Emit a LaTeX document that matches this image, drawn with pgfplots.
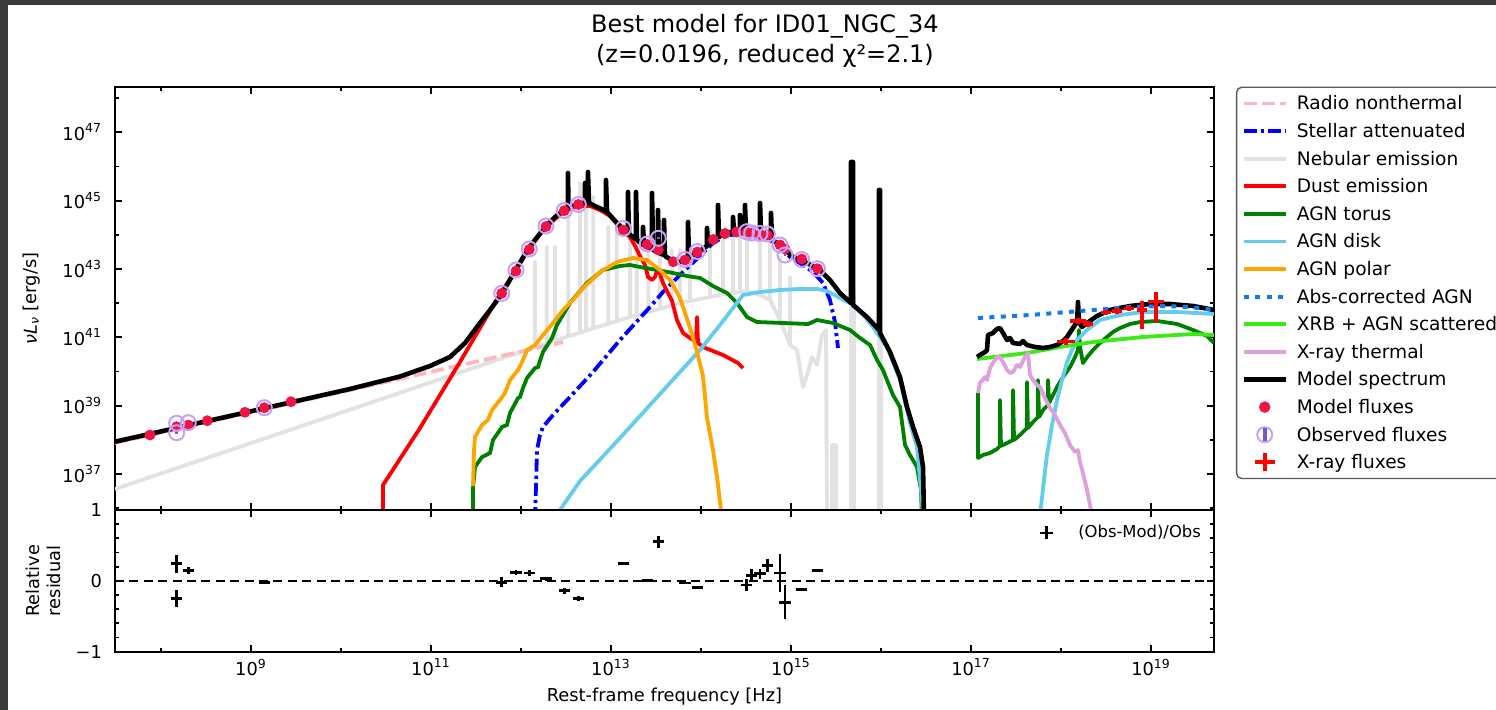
\documentclass[border=0pt]{standalone}
\usepackage{fontspec}
\setmainfont{DejaVu Sans}
\usepackage{pgfplots}
\pgfplotsset{compat=1.18}
\definecolor{framec}{RGB}{58,58,60}
\definecolor{pinkc}{RGB}{255,182,193}
\definecolor{stellar}{RGB}{0,0,255}
\definecolor{nebgray}{RGB}{226,226,226}
\definecolor{dust}{RGB}{255,0,0}
\definecolor{torus}{RGB}{0,128,0}
\definecolor{disk}{RGB}{102,204,238}
\definecolor{polar}{RGB}{255,165,0}
\definecolor{abscorr}{RGB}{20,120,240}
\definecolor{xrb}{RGB}{60,235,20}
\definecolor{thermal}{RGB}{221,160,221}
\definecolor{modflux}{RGB}{240,20,70}
\definecolor{obscirc}{RGB}{200,160,245}
\definecolor{obsbar}{RGB}{106,90,205}
\definecolor{leggray}{RGB}{90,90,90}
\newcommand{\fs}{\fontsize{8.9}{10.4}\selectfont}
\newcommand{\lfs}{\fontsize{9.3}{10.4}\selectfont}
\begin{document}
\begin{tikzpicture}
\useasboundingbox (0pt,0pt) rectangle (748pt,-355pt);
\fill[framec] (0pt,0pt) rectangle (748pt,-355pt);
\fill[white] (4pt,-2.5pt) rectangle (748pt,-355pt);
\begin{axis}[
  at={(57.5pt,-255pt)}, anchor=south west,
  scale only axis, width=549.5pt, height=211.35pt,
  xmin=7.489, xmax=19.70, ymin=35.947, ymax=48.317,
  axis line style={line width=1pt},
  xtick={9,11,13,15,17,19}, minor xtick={8,10,12,14,16,18}, xticklabels={},
  ytick={37,39,41,43,45,47}, minor ytick={36,38,40,42,44,46,48},
  yticklabels={10\textsuperscript{37},10\textsuperscript{39},10\textsuperscript{41},10\textsuperscript{43},10\textsuperscript{45},10\textsuperscript{47}},
  tick align=inside, xtick pos=both, ytick pos=both, yticklabel pos=left,
  major tick length=3.5pt, minor tick length=2pt,
  tick style={black, line width=0.9pt},
  tick label style={font=\fs},
  yticklabel style={xshift=-3pt},
  ylabel={\textit{νL}\textsubscript{\textit{ν}} [erg/s]},
  ylabel style={font=\fs, at={(axis description cs:-0.0755,0.5)}, anchor=center},
  every axis title shift=0pt,
  title={Best model for ID01\_NGC\_34\\(z=0.0196, reduced χ²=2.1)},
  title style={font=\fontsize{12}{14.75}\selectfont, align=center, at={(axis description cs:0.5914,1.1095)}, anchor=center},
  legend style={at={(1.0206,1)}, anchor=north west, draw=leggray, line width=0.7pt,
    rounded corners=2.5pt, fill=white, font=\lfs, inner xsep=2.5pt, inner ysep=1.2pt, outer sep=0pt,
    row sep=0pt, column sep=4.5pt, nodes={inner sep=0pt, text height=10.1pt, text depth=3.7pt}},
  legend cell align=left,
  legend image code/.code={\draw[#1] (0pt,0pt) -- (20.8pt,0pt);},
]
% Nebular emission
\addplot[nebgray, line width=1.9pt, line join=round, forget plot] coordinates {
(7.489,36.561) (11.767,40.366)
(12.156,40.708) (12.156,43.213) (12.156,40.708)
(12.286,40.822) (12.286,43.652) (12.286,40.822)
(12.378,40.901) (12.378,43.652) (12.378,40.901)
(12.526,41.030) (12.526,44.726) (12.526,41.030)
(12.656,41.138) (12.656,45.508) (12.656,41.138)
(12.722,41.194) (12.722,44.969) (12.722,41.194)
(12.803,41.261) (12.803,45.115) (12.803,41.261)
(12.970,41.402) (12.970,44.237) (12.970,41.402)
(13.063,41.478) (13.063,44.337) (13.063,41.478)
(13.211,41.589) (13.211,44.237) (13.211,41.589)
(13.286,41.645) (13.286,43.945) (13.286,41.645)
(13.414,41.741) (13.414,43.556) (13.414,41.741)
(13.544,41.838) (13.544,43.848) (13.544,41.838)
(13.674,41.934) (13.674,43.556) (13.674,41.934)
(13.767,42.005) (13.767,43.556) (13.767,42.005)
(13.878,42.063) (13.878,43.556) (13.878,42.063)
(14.100,42.180) (14.100,44.141) (14.100,42.180)
(14.244,42.256) (14.244,43.848) (14.244,42.256)
(14.356,42.297) (14.356,44.521) (14.356,42.297)
(14.433,42.326) (14.433,44.434) (14.433,42.326)
(14.511,42.356) (14.511,44.229) (14.511,42.356)
(14.656,42.239) (14.656,44.053) (14.656,42.239)
(14.767,42.092) (14.767,44.141) (14.767,42.092)
(14.878,41.507) (14.878,43.351) (14.878,41.507)
(14.989,40.775) (14.989,42.765) (14.989,40.775)
(15.067,40.629) (15.133,39.546) (15.178,39.897) (15.233,40.424) (15.289,40.190) (15.344,41.068) (15.389,41.214)
(15.400,35.800) (15.456,35.800) (15.456,37.849) (15.500,37.849) (15.500,35.800)
(15.667,35.800) (15.667,42.385) (15.700,42.385) (15.700,35.800)
(15.978,35.800) (15.978,41.068) (16.000,41.068) (16.000,35.800)
};
% Radio nonthermal
\addplot[pinkc, line width=1.9pt, dash pattern=on 6.5pt off 2.5pt, forget plot] coordinates {(7.489,37.91) (12.467,40.86)};
% Stellar attenuated
\addplot[stellar, line width=1.9pt, dash pattern=on 6.5pt off 2pt on 1.6pt off 2pt, forget plot] coordinates {
(12.156,35.654) (12.178,37.703) (12.211,38.142) (12.244,38.376) (12.356,38.727) (12.544,39.254) (12.800,39.985) (13.100,40.922) (13.433,41.887) (13.578,42.326) (13.800,42.912) (13.989,43.380) (14.133,43.760) (14.267,43.965) (14.400,44.024) (14.544,43.995) (14.656,43.965) (14.767,43.848) (14.878,43.643) (14.989,43.351) (15.133,43.117) (15.244,42.912) (15.356,42.590) (15.433,42.092) (15.489,41.448) (15.522,40.688)};
% Dust emission
\addplot[dust, line width=1.9pt, line join=round, forget plot] coordinates {
(10.467,35.800) (10.467,36.678) (10.878,38.346) (11.322,40.278) (11.767,42.268) (11.933,42.912) (12.078,43.556) (12.267,44.199) (12.467,44.668) (12.633,44.843) (12.767,44.843) (12.878,44.726) (12.989,44.551) (13.067,44.316) (13.133,44.112) (13.211,43.936) (13.267,43.673) (13.322,43.380) (13.378,43.117) (13.411,42.765) (13.456,42.678) (13.489,42.765) (13.511,42.970) (13.544,42.853) (13.578,42.590) (13.622,42.356) (13.678,42.063) (13.733,41.507) (13.800,41.127) (13.878,40.980) (13.944,40.863) (13.956,41.595) (13.967,40.834) (14.022,40.717) (14.244,40.483) (14.411,40.249) (14.467,40.102)};
% AGN torus
\addplot[torus, line width=1.9pt, forget plot] coordinates {
(11.467,35.654) (11.467,36.591) (11.489,37.205) (11.567,37.498) (11.656,37.615) (11.689,37.995) (11.789,38.376) (11.844,38.434) (11.878,38.785) (11.967,39.224) (11.989,39.254) (12.022,39.517) (12.067,39.810) (12.156,40.102) (12.189,40.131) (12.244,40.571) (12.344,40.980) (12.400,41.361) (12.544,42.005) (12.733,42.590) (12.911,42.970) (13.100,43.087) (13.211,43.117) (13.322,43.058) (13.511,42.970) (13.689,42.882) (13.844,42.795) (13.989,42.736) (14.133,42.502) (14.289,42.297) (14.400,42.005) (14.511,41.595) (14.622,41.448) (14.911,41.419) (15.189,41.390) (15.289,41.507) (15.467,41.419) (15.656,41.214) (15.767,40.980) (15.878,40.775) (15.956,40.336) (16.022,40.044) (16.133,39.312) (16.211,38.961) (16.267,37.849) (16.322,37.556) (16.400,37.205) (16.444,36.532) (16.456,35.654)};
\addplot[torus, line width=1.9pt, line join=round, forget plot] coordinates {
(17.078,39.371) (17.078,37.468) (17.133,37.556) (17.211,37.615) (17.289,37.732) (17.322,37.820) (17.322,39.166) (17.333,37.820) (17.400,37.907) (17.467,37.995) (17.467,39.458) (17.478,37.995) (17.544,38.142) (17.622,38.346) (17.622,39.693) (17.633,38.346) (17.689,38.522) (17.744,38.668) (17.744,39.751) (17.756,38.668) (17.800,38.873) (17.856,39.020) (17.856,39.751) (17.867,39.078) (17.911,39.312) (17.956,39.546) (18.022,39.839) (18.100,40.131) (18.156,40.424) (18.189,40.629) (18.200,41.214) (18.211,40.717) (18.244,40.249) (18.300,40.453) (18.356,40.629) (18.433,40.834) (18.511,41.010) (18.578,41.156) (18.656,41.273) (18.767,41.390) (18.878,41.448) (19.067,41.478) (19.289,41.390) (19.467,41.214) (19.622,41.039) (19.700,40.834)};
% AGN disk
\addplot[disk, line width=1.9pt, forget plot] coordinates {
(12.356,35.654) (12.656,36.795) (13.100,38.054) (13.544,39.341) (13.989,40.629) (14.211,41.361) (14.467,42.239) (14.656,42.326) (14.878,42.385) (15.100,42.414) (15.289,42.414) (15.400,42.356) (15.544,42.151) (15.733,41.887) (15.911,41.302) (16.067,40.717) (16.211,39.751) (16.322,38.493) (16.400,37.790) (16.456,36.239) (16.467,35.654)};
\addplot[disk, line width=1.9pt, forget plot] coordinates {
(17.767,35.800) (17.811,36.825) (17.844,37.556) (17.900,38.434) (17.956,39.166) (18.011,39.751) (18.067,40.278) (18.122,40.629) (18.178,40.922) (18.289,41.214) (18.433,41.507) (18.656,41.653) (18.911,41.741) (19.289,41.741) (19.700,41.683)};
% AGN polar
\addplot[polar, line width=1.9pt, forget plot] coordinates {
(11.467,36.649) (11.478,37.703) (11.489,38.083) (11.567,38.434) (11.633,38.581) (11.678,38.873) (11.767,39.166) (11.822,39.371) (11.878,39.751) (11.967,40.044) (12.022,40.336) (12.067,40.629) (12.156,40.775) (12.244,41.068) (12.356,41.419) (12.467,41.800) (12.578,42.092) (12.689,42.443) (12.878,42.912) (13.067,43.204) (13.244,43.321) (13.400,43.263) (13.544,42.970) (13.656,42.678) (13.767,42.151) (13.878,41.273) (13.956,40.571) (14.022,39.868) (14.067,38.639) (14.133,37.703) (14.178,36.912) (14.222,35.947) (14.233,35.654)};
% XRB + AGN scattered
\addplot[xrb, line width=1.9pt, forget plot] coordinates {
(17.067,40.366) (17.622,40.541) (17.989,40.717) (18.356,40.863) (18.911,41.010) (19.467,41.097) (19.700,41.068)};
% X-ray thermal
\addplot[thermal, line width=1.9pt, line join=round, forget plot] coordinates {
(17.078,39.371) (17.100,39.663) (17.156,39.839) (17.178,39.751) (17.211,40.102) (17.244,40.249) (17.289,40.424) (17.322,40.424) (17.356,40.278) (17.400,40.044) (17.433,39.956) (17.467,39.985) (17.511,40.190) (17.544,40.131) (17.600,40.424) (17.633,40.541) (17.656,39.897) (17.689,39.751) (17.733,39.605) (17.767,39.546) (17.822,39.224) (17.878,38.932) (17.933,38.727) (17.989,38.434) (18.044,38.200) (18.100,37.849) (18.156,37.644) (18.189,37.703) (18.211,37.351) (18.244,37.029) (18.289,36.532) (18.322,36.093) (18.344,35.800)};
% Model spectrum
\addplot[black, line width=2.3pt, line join=round, forget plot] coordinates {
(7.489,37.945) (8.989,38.829) (10.100,39.488) (10.656,39.854) (10.989,40.161) (11.211,40.424) (11.378,40.834) (11.544,41.419) (11.656,41.800) (11.786,42.268) (11.933,42.941) (12.078,43.585) (12.267,44.229) (12.378,44.521) (12.467,44.697)
(12.522,44.785) (12.522,45.809) (12.528,44.800) (12.633,44.902)
(12.711,44.931) (12.711,45.516) (12.722,44.931) (12.744,44.931) (12.744,45.838) (12.756,44.931)
(12.844,44.814) (12.944,44.697) (12.944,45.604) (12.956,44.668) (13.067,44.346) (13.133,44.170)
(13.189,44.053) (13.189,45.253) (13.200,44.024) (13.244,43.936) (13.278,43.877) (13.278,45.253) (13.289,43.848)
(13.356,43.702) (13.356,44.229) (13.367,43.702) (13.456,43.585) (13.456,45.224) (13.467,43.556)
(13.522,43.497) (13.522,44.726) (13.533,43.468) (13.589,43.409) (13.589,44.434) (13.600,43.380)
(13.689,43.234) (13.767,43.204) (13.856,43.321) (13.856,44.375) (13.867,43.321) (13.956,43.468)
(14.067,43.673) (14.067,44.199) (14.078,43.702) (14.133,43.848) (14.189,43.936) (14.189,44.872) (14.200,43.936)
(14.267,44.053) (14.356,44.082) (14.356,44.521) (14.367,44.082) (14.433,44.082) (14.433,44.580) (14.444,44.082)
(14.489,44.082) (14.489,44.872) (14.500,44.082) (14.544,44.053) (14.656,44.024) (14.656,44.931) (14.667,44.024)
(14.711,43.965) (14.778,43.907) (14.778,44.638) (14.789,43.877) (14.911,43.614) (15.022,43.351) (15.178,43.175)
(15.322,42.970) (15.433,42.678) (15.544,42.297) (15.667,42.005) (15.667,46.131) (15.689,46.131) (15.689,41.946)
(15.844,41.595) (15.978,41.214) (15.978,45.311) (15.989,45.311) (15.989,41.127) (16.100,40.571) (16.211,39.839)
(16.289,38.961) (16.356,38.376) (16.433,37.790) (16.467,37.205) (16.478,35.654)};
\addplot[black, line width=2.3pt, line join=round, forget plot] coordinates {
(17.067,40.424) (17.100,40.483) (17.156,40.571) (17.178,40.629) (17.189,41.068) (17.244,41.127) (17.289,41.244) (17.322,41.273) (17.356,41.127) (17.400,40.922) (17.433,40.980) (17.467,40.834) (17.544,40.805) (17.578,40.892) (17.622,40.775) (17.711,40.717) (17.800,40.688) (17.878,40.717) (17.956,40.775) (18.022,40.892) (18.067,41.010) (18.133,41.273) (18.178,41.448) (18.189,42.034) (18.200,41.448) (18.233,41.302) (18.289,41.419) (18.400,41.624) (18.544,41.800) (18.767,41.917) (18.989,41.975) (19.211,41.975) (19.467,41.917) (19.700,41.800)};
% Abs-corrected AGN
\addplot[abscorr, line width=2pt, dash pattern=on 2.5pt off 3.2pt, forget plot] coordinates {
(17.078,41.566) (17.656,41.653) (18.211,41.770) (18.767,41.887) (19.133,41.917) (19.433,41.887) (19.700,41.800)};
% Model fluxes
\addplot[only marks, mark=*, mark size=2.5pt, mark options={fill=modflux, draw=modflux}, forget plot] coordinates {
(7.878,38.142) (8.174,38.385) (8.303,38.434) (8.514,38.560) (8.933,38.806) (9.148,38.940) (9.444,39.116) (11.786,42.288) (11.944,42.941) (12.092,43.570) (12.278,44.243) (12.480,44.706) (12.637,44.887) (13.137,44.141) (13.403,43.716) (13.526,43.556) (13.692,43.213) (13.822,43.263) (13.959,43.497) (14.137,43.862) (14.267,44.038) (14.397,44.082) (14.508,44.082) (14.563,44.053) (14.656,44.009) (14.737,43.995) (14.878,43.702) (14.933,43.585) (15.119,43.292) (15.294,43.008)};
% Observed fluxes
\addplot[only marks, mark=o, mark size=3.75pt, mark options={draw=obscirc, line width=1pt}, forget plot,
  error bars/.cd, y dir=both, y explicit, error mark=none, error bar style={obsbar, line width=1.2pt}] coordinates {
(8.174,38.484) +- (0,0.03) (8.174,38.209) +- (0,0.03) (8.303,38.502) +- (0,0.03) (9.148,38.940) +- (0,0.03)
(11.786,42.288) +- (0,0.03) (11.944,42.970) +- (0,0.03) (12.092,43.585) +- (0,0.03) (12.278,44.258) +- (0,0.03)
(12.480,44.711) +- (0,0.03) (12.637,44.887) +- (0,0.03) (13.137,44.185) +- (0,0.03) (13.403,43.731) +- (0,0.03)
(13.526,43.898) +- (0,0.03) (13.822,43.278) +- (0,0.03) (13.959,43.511) +- (0,0.03) (14.508,44.091) +- (0,0.03)
(14.563,44.053) +- (0,0.03) (14.656,44.038) +- (0,0.03) (14.737,44.024) +- (0,0.03) (14.878,43.702) +- (0,0.03)
(14.933,43.409) +- (0,0.03) (15.119,43.278) +- (0,0.03) (15.294,43.008) +- (0,0.03)};
% X-ray fluxes
\addplot[draw=none, mark=none, forget plot,
  error bars/.cd, x dir=both, x explicit, y dir=both, y explicit, error mark=none, error bar style={draw=dust, solid, line width=1.8pt}] coordinates {
(18.056,40.878) += (0.10,0.09) -= (0.10,0.09)
(18.189,41.478) += (0.09,0.09) -= (0.09,0.09)
(18.300,41.390) += (0.055,0.08) -= (0.055,0.08)
(18.500,41.727) += (0.06,0.08) -= (0.06,0.08)
(18.622,41.770) += (0.06,0.08) -= (0.06,0.08)
(18.756,41.843) += (0.06,0.08) -= (0.06,0.08)
(18.900,41.800) += (0.055,0.25) -= (0.055,0.56)
(19.056,42.048) += (0.09,0.29) -= (0.09,0.61)};
% legend
\addlegendimage{pinkc, line width=1.9pt, dash pattern=on 6.5pt off 2.5pt}
\addlegendentry{Radio nonthermal}
\addlegendimage{stellar, line width=1.9pt, dash pattern=on 6.5pt off 2pt on 1.6pt off 2pt}
\addlegendentry{Stellar attenuated}
\addlegendimage{nebgray, line width=1.9pt}
\addlegendentry{Nebular emission}
\addlegendimage{dust, line width=1.9pt}
\addlegendentry{Dust emission}
\addlegendimage{torus, line width=1.9pt}
\addlegendentry{AGN torus}
\addlegendimage{disk, line width=1.9pt}
\addlegendentry{AGN disk}
\addlegendimage{polar, line width=1.9pt}
\addlegendentry{AGN polar}
\addlegendimage{abscorr, line width=2pt, dash pattern=on 2.5pt off 3.2pt}
\addlegendentry{Abs-corrected AGN}
\addlegendimage{xrb, line width=1.9pt}
\addlegendentry{XRB + AGN scattered\hspace*{14pt}}
\addlegendimage{thermal, line width=1.9pt}
\addlegendentry{X-ray thermal}
\addlegendimage{black, line width=2.3pt}
\addlegendentry{Model spectrum}
\addlegendimage{legend image code/.code={\path[draw=none] (0pt,0pt) -- (20.8pt,0pt); \fill[modflux] (10.4pt,0pt) circle (2.5pt);}}
\addlegendentry{Model fluxes}
\addlegendimage{legend image code/.code={\path[draw=none] (0pt,0pt) -- (20.8pt,0pt); \draw[obscirc, line width=1pt] (10.4pt,0pt) circle (3.75pt); \draw[obsbar, line width=1.8pt] (10.4pt,-3.2pt) -- (10.4pt,3.2pt);}}
\addlegendentry{Observed fluxes}
\addlegendimage{legend image code/.code={\path[draw=none] (0pt,0pt) -- (20.8pt,0pt); \draw[dust, line width=2pt] (10.4pt,-4.5pt) -- (10.4pt,4.5pt) (5.4pt,0pt) -- (15.4pt,0pt);}}
\addlegendentry{X-ray fluxes}
\end{axis}
\begin{axis}[
  at={(57.5pt,-325.85pt)}, anchor=south west,
  scale only axis, width=549.5pt, height=70.85pt,
  xmin=7.489, xmax=19.70, ymin=-1, ymax=1,
  axis line style={line width=1pt},
  xtick={9,11,13,15,17,19}, minor xtick={8,10,12,14,16,18},
  xticklabels={10\textsuperscript{9},10\textsuperscript{11},10\textsuperscript{13},10\textsuperscript{15},10\textsuperscript{17},10\textsuperscript{19}},
  ytick={-1,0,1}, yticklabels={−1,0,1}, minor ytick={-0.8,-0.6,-0.4,-0.2,0.2,0.4,0.6,0.8},
  tick align=inside, xtick pos=both, ytick pos=both, yticklabel pos=left, xticklabel pos=lower,
  major tick length=3.5pt, minor tick length=2pt,
  tick style={black, line width=0.9pt},
  tick label style={font=\fs},
  yticklabel style={xshift=-3pt},
  xlabel={Rest-frame frequency [Hz]},
  xlabel style={font=\fs, at={(axis description cs:0.5,-0.318)}, anchor=center},
  ylabel={Relative\\residual},
  ylabel style={font=\fs, align=center, at={(axis description cs:-0.0655,0.5)}, anchor=center},
  legend style={at={(0.8403,0.8377)}, anchor=west, draw=none, fill=none, font=\fontsize{8.2}{9.8}\selectfont,
    inner sep=0pt, outer sep=0pt, column sep=12pt, nodes={inner sep=0pt}},
  legend image code/.code={\draw[black, line width=1.4pt] (0pt,-3.25pt) -- (0pt,3.25pt) (-3.25pt,0pt) -- (3.25pt,0pt);},
]
\addplot[black, line width=1.3pt, dash pattern=on 4.5pt off 2.7pt, forget plot] coordinates {(7.489,0) (19.70,0)};
\addplot[only marks, mark=-, mark size=2.8pt, mark options={line width=1.4pt}, black, forget plot,
  error bars/.cd, y dir=both, y explicit, error mark=none, error bar style={black, line width=1.4pt}] coordinates {
(8.174,0.24) +- (0,0.13) (8.174,-0.25) +- (0,0.12) (8.303,0.15) +- (0,0.05) (9.148,-0.02) +- (0,0.01)
(11.786,-0.02) +- (0,0.07) (11.944,0.12) +- (0,0.04) (12.092,0.11) +- (0,0.04) (12.278,0.03) +- (0,0.03)
(12.480,-0.14) +- (0,0.04) (12.637,-0.25) +- (0,0.03) (13.137,0.24) +- (0,0) (13.403,0.0) +- (0,0)
(13.526,0.55) +- (0,0.08) (13.822,-0.03) +- (0,0) (13.959,-0.09) +- (0,0) (14.508,-0.06) +- (0,0.09)
(14.563,0.08) +- (0,0.09) (14.656,0.10) +- (0,0.07) (14.737,0.22) +- (0,0.09) (14.878,0.11) +- (0,0.27)
(14.933,-0.30) +- (0,0.24) (15.119,-0.12) +- (0,0) (15.294,0.15) +- (0,0.02)};
\addlegendimage{black}
\addlegendentry{(Obs-Mod)/Obs}
\end{axis}
\end{tikzpicture}
\end{document}
